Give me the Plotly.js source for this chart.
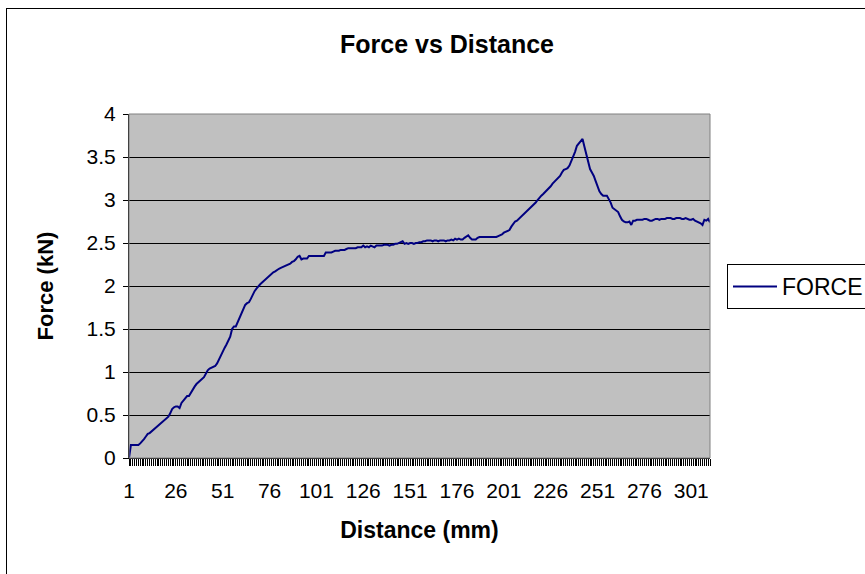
<!DOCTYPE html>
<html>
<head>
<meta charset="utf-8">
<script src="https://cdn.plot.ly/plotly-3.0.1.min.js"></script>
<style>
html,body{margin:0;padding:0;background:#fff;}
#chart{width:865px;height:574px;position:relative;}
#frame{position:absolute;left:6px;top:8px;width:880px;height:580px;border:1px solid #000;pointer-events:none;box-sizing:border-box;}
</style>
</head>
<body>
<div id="chart"></div>
<div id="frame"></div>
<script>
// Force (kN) readings, one per distance step (mm)
const force = [
0.00,0.15,0.15,0.15,0.15,0.15,0.17,0.19,0.22,0.25,
0.28,0.29,0.31,0.33,0.35,0.37,0.39,0.41,0.43,0.44,
0.46,0.48,0.52,0.57,0.59,0.60,0.60,0.58,0.64,0.67,
0.70,0.72,0.72,0.76,0.80,0.83,0.86,0.88,0.90,0.92,
0.94,0.98,1.02,1.04,1.05,1.06,1.07,1.10,1.15,1.19,
1.23,1.28,1.32,1.37,1.41,1.50,1.53,1.53,1.58,1.64,
1.69,1.74,1.78,1.80,1.81,1.85,1.90,1.94,1.97,2.00,
2.02,2.04,2.06,2.09,2.10,2.12,2.14,2.16,2.17,2.19,
2.20,2.21,2.22,2.23,2.24,2.25,2.26,2.28,2.29,2.31,
2.34,2.35,2.31,2.32,2.32,2.32,2.35,2.35,2.35,2.35,
2.35,2.35,2.35,2.35,2.35,2.39,2.39,2.39,2.39,2.40,
2.41,2.41,2.41,2.42,2.42,2.42,2.43,2.44,2.44,2.44,
2.44,2.44,2.45,2.45,2.45,2.47,2.45,2.46,2.45,2.47,
2.46,2.45,2.47,2.47,2.47,2.47,2.48,2.48,2.48,2.47,
2.48,2.48,2.49,2.49,2.50,2.51,2.52,2.49,2.50,2.49,
2.50,2.50,2.49,2.50,2.50,2.51,2.51,2.52,2.52,2.53,
2.53,2.53,2.52,2.53,2.53,2.52,2.53,2.53,2.53,2.52,
2.53,2.53,2.54,2.53,2.55,2.54,2.55,2.54,2.54,2.56,
2.58,2.59,2.56,2.54,2.54,2.54,2.56,2.57,2.57,2.57,
2.57,2.57,2.57,2.57,2.57,2.57,2.57,2.58,2.59,2.60,
2.62,2.63,2.64,2.65,2.69,2.72,2.75,2.76,2.78,2.80,
2.82,2.84,2.86,2.88,2.90,2.92,2.94,2.97,3.00,3.03,
3.05,3.07,3.09,3.11,3.13,3.16,3.19,3.21,3.23,3.25,
3.28,3.32,3.35,3.36,3.37,3.40,3.45,3.50,3.56,3.63,
3.66,3.69,3.71,3.62,3.53,3.42,3.36,3.32,3.28,3.22,
3.16,3.10,3.07,3.05,3.05,3.05,3.01,2.97,2.91,2.89,
2.88,2.86,2.81,2.77,2.75,2.74,2.74,2.75,2.71,2.76,
2.76,2.77,2.77,2.77,2.77,2.78,2.78,2.77,2.76,2.76,
2.77,2.78,2.78,2.77,2.78,2.78,2.78,2.79,2.79,2.79,
2.78,2.78,2.79,2.79,2.79,2.78,2.78,2.79,2.78,2.77,
2.77,2.78,2.76,2.75,2.74,2.73,2.71,2.77,2.76,2.78,
2.74
];
const distance = force.map((_, i) => i + 1);
const xTickVals = [1, 26, 51, 76, 101, 126, 151, 176, 201, 226, 251, 276, 301];
const yTickVals = [0, 0.5, 1, 1.5, 2, 2.5, 3, 3.5, 4];
const seriesName = 'FORCE';

const font = 'Liberation Sans, Arial, sans-serif';

const trace = {
  x: distance,
  y: force,
  type: 'scatter',
  mode: 'lines',
  name: seriesName,
  line: {color: '#000080', width: 2},
  showlegend: true
};

const layout = {
  width: 865,
  height: 574,
  margin: {l: 129, r: 155, t: 114, b: 116, pad: 0},
  paper_bgcolor: '#ffffff',
  plot_bgcolor: '#c0c0c0',
  font: {family: font, size: 20, color: '#000'},
  title: {
    text: '<b>Force vs Distance</b>',
    font: {family: font, size: 25, color: '#000'},
    x: 447 / 865, xref: 'container', xanchor: 'center',
    y: 1 - 44 / 574, yref: 'container', yanchor: 'middle'
  },
  xaxis: {
    type: 'linear',
    range: [1, 311],
    tickmode: 'array',
    tickvals: xTickVals,
    ticktext: xTickVals.map(String),
    ticks: 'outside', ticklen: 7, tickcolor: '#000', tickwidth: 1,
    minor: {tickmode: 'linear', tick0: 1, dtick: 1, ticks: 'outside', ticklen: 7, tickcolor: '#000', tickwidth: 1, showgrid: false},
    showline: true, linecolor: '#000', linewidth: 1,
    showgrid: false, zeroline: false,
    tickfont: {family: font, size: 21, color: '#000'},
    ticklabelstandoff: 7,
    automargin: false,
    title: {text: '<b>Distance (mm)</b>', font: {family: font, size: 23, color: '#000'}, standoff: 20}
  },
  yaxis: {
    range: [0, 4],
    tickmode: 'array',
    tickvals: yTickVals,
    ticktext: yTickVals.map(String),
    ticks: 'outside', ticklen: 5, tickcolor: '#000', tickwidth: 1,
    showline: true, linecolor: '#000', linewidth: 1,
    showgrid: true, gridcolor: '#000', gridwidth: 1,
    zeroline: false,
    tickfont: {family: font, size: 21, color: '#000'},
    ticklabelstandoff: 3,
    automargin: false,
    title: {text: '<b>Force (kN)</b>', font: {family: font, size: 22, color: '#000'}, standoff: 26}
  },
  legend: {
    xref: 'container', yref: 'container',
    x: 727 / 865, xanchor: 'left',
    y: 1 - 264 / 574, yanchor: 'top',
    bgcolor: '#fff', bordercolor: '#000', borderwidth: 1,
    font: {family: font, size: 23, color: '#000'},
    itemwidth: 44
  },
  shapes: [{
    type: 'rect', xref: 'paper', yref: 'paper', x0: 0, x1: 1, y0: 0, y1: 1,
    line: {color: '#808080', width: 1}, layer: 'above'
  }],
  showlegend: true
};

Plotly.newPlot('chart', [trace], layout, {displayModeBar: false, staticPlot: true});
</script>
</body>
</html>
